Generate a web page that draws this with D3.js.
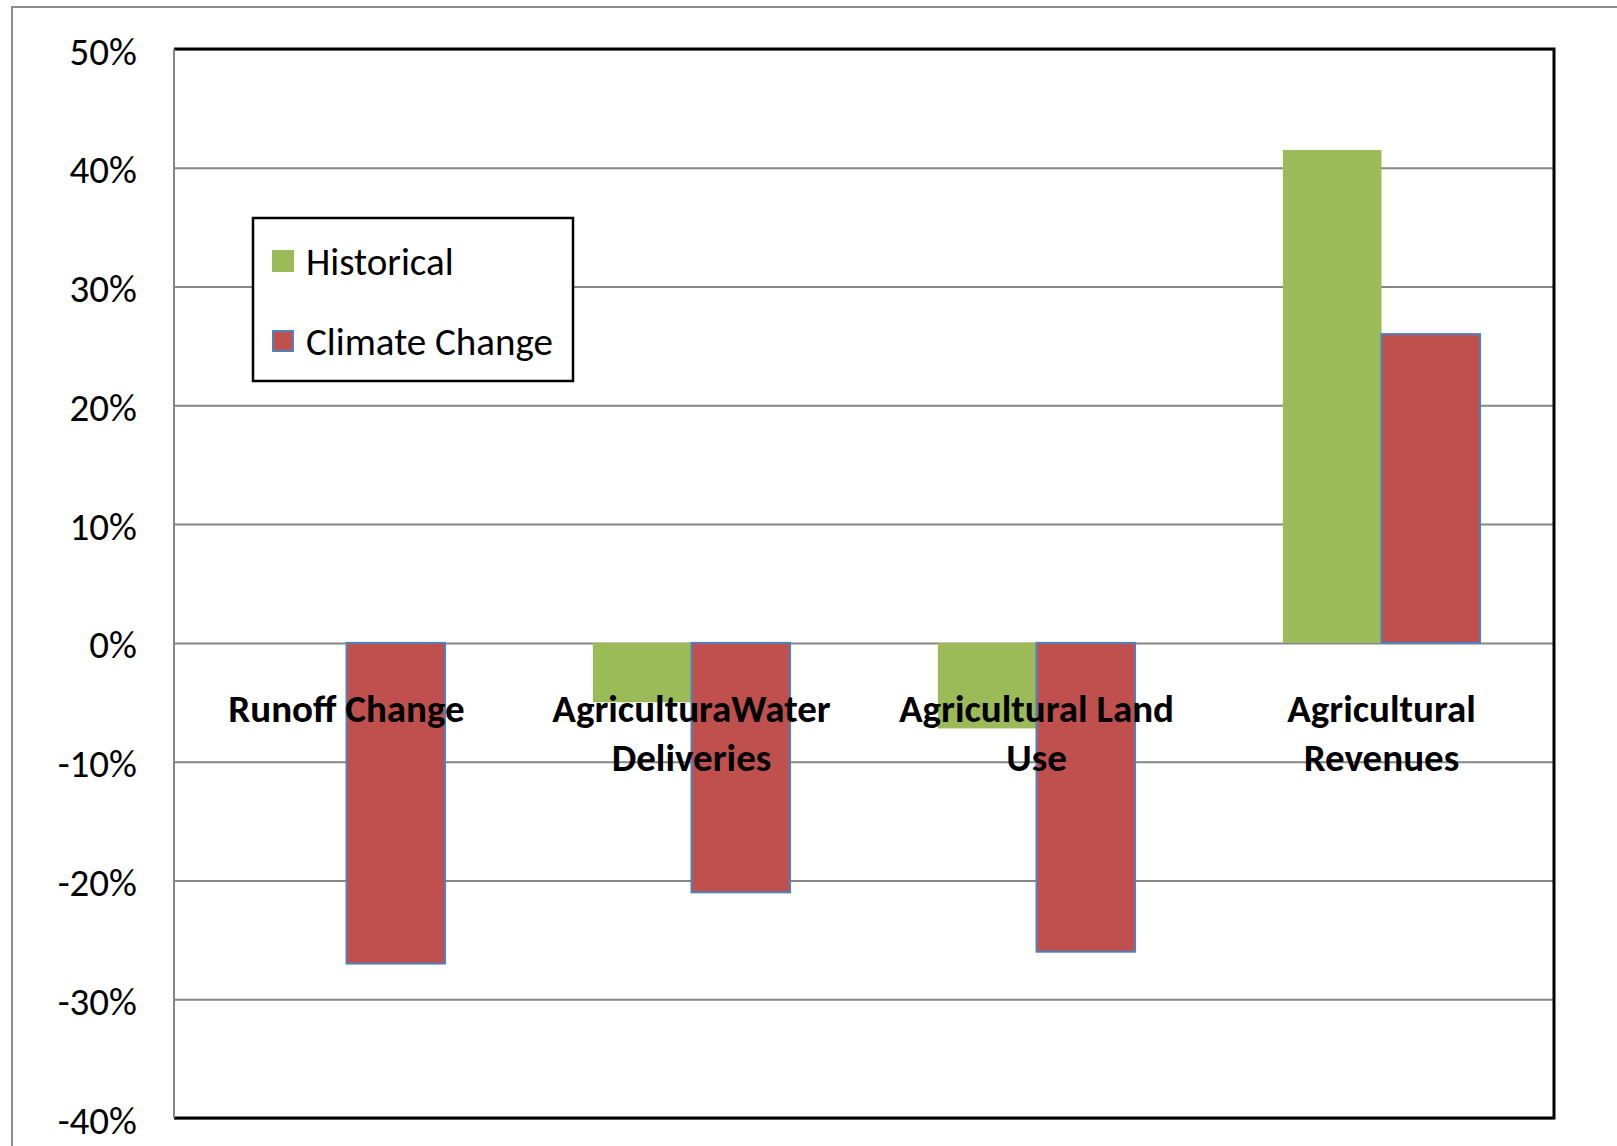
<!DOCTYPE html>
<html>
<head>
<meta charset="utf-8">
<script src="https://cdn.jsdelivr.net/npm/d3@7"></script>
<style>
  html, body { margin: 0; padding: 0; background: #fff; }
  svg { display: block; }
  text { font-family: Carlito, Calibri, Lato, sans-serif; }
</style>
</head>
<body>
<svg id="chart" width="1617" height="1146"></svg>
<script>
// Change relative to baseline, by indicator
const categories = [
  ["Runoff Change"],
  ["AgriculturaWater", "Deliveries"],
  ["Agricultural Land", "Use"],
  ["Agricultural", "Revenues"]
];
const seriesNames = ["Historical", "Climate Change"];
const historical = [0.0, -0.05, -0.072, 0.415];
const climateChange = [-0.27, -0.21, -0.26, 0.26];
const yTicks = [-0.4, -0.3, -0.2, -0.1, 0, 0.1, 0.2, 0.3, 0.4, 0.5];

const colors = { "Historical": "#9BBB59", "Climate Change": "#C0504D" };
const outline = { "Historical": "none", "Climate Change": "#4F81BD" };

const svg = d3.select("#chart");
const W = 1617, H = 1146;
const plot = { left: 174, right: 1554, top: 49, bottom: 1118 };

// outer chart frame (continues past the page edge)
svg.append("rect")
  .attr("x", 12).attr("y", 7)
  .attr("width", W).attr("height", H)
  .attr("fill", "#fff").attr("stroke", "#8c8c8c").attr("stroke-width", 2);

const keys = categories.map(c => c.join(" "));
const x = d3.scaleBand().domain(keys)
  .range([plot.left, plot.right])
  .paddingInner(1.5 / 3.5).paddingOuter(0.75 / 3.5);
const x1 = d3.scaleBand().domain(seriesNames).range([0, x.bandwidth()]);
const y = d3.scaleLinear().domain([-0.4, 0.5]).range([plot.bottom, plot.top]);
const pct = v => d3.format(".0%")(v).replace("\u2212", "-");

// gridlines
svg.append("g")
  .attr("transform", `translate(${plot.left},0)`)
  .call(d3.axisLeft(y).tickValues(yTicks).tickSize(-(plot.right - plot.left)).tickFormat(""))
  .call(g => g.select(".domain").remove())
  .call(g => g.selectAll("line").attr("stroke", "#868686").attr("stroke-width", 2));

// tick labels
svg.append("g")
  .selectAll("text").data(yTicks).join("text")
  .attr("x", 137).attr("y", d => y(d))
  .attr("dy", "0.4em")
  .attr("text-anchor", "end")
  .attr("font-size", 39)
  .attr("fill", "#000")
  .text(d => pct(d));

// bars
const rows = keys.map((k, i) => ({ key: k, values: [
  { s: "Historical", v: historical[i] },
  { s: "Climate Change", v: climateChange[i] }
]}));

const groups = svg.append("g").selectAll("g").data(rows).join("g")
  .attr("transform", d => `translate(${x(d.key)},0)`);
groups.selectAll("rect").data(d => d.values.filter(e => e.v !== 0)).join("rect")
  .attr("x", d => x1(d.s))
  .attr("width", x1.bandwidth())
  .attr("y", d => y(Math.max(0, d.v)))
  .attr("height", d => Math.abs(y(d.v) - y(0)))
  .attr("fill", d => colors[d.s])
  .attr("stroke", d => outline[d.s])
  .attr("stroke-width", 2);

// plot frame: grey value axis on the left, black elsewhere
svg.append("path")
  .attr("d", `M${plot.left},${plot.top}H${plot.right}V${plot.bottom}H${plot.left}`)
  .attr("fill", "none").attr("stroke", "#000").attr("stroke-width", 3);
svg.append("line")
  .attr("x1", plot.left).attr("x2", plot.left)
  .attr("y1", plot.top).attr("y2", plot.bottom)
  .attr("stroke", "#868686").attr("stroke-width", 2);

// category labels, drawn over the bars
const labels = svg.append("g").selectAll("text").data(categories).join("text")
  .attr("text-anchor", "middle")
  .attr("font-weight", "bold")
  .attr("font-size", 39)
  .attr("fill", "#000");
labels.selectAll("tspan").data((d, i) => d.map(line => ({ line, i }))).join("tspan")
  .attr("x", d => x(keys[d.i]) + x.bandwidth() / 2)
  .attr("y", (d, j) => 722 + j * 48.5)
  .text(d => d.line);

// legend
const lg = svg.append("g");
lg.append("rect")
  .attr("x", 253).attr("y", 218).attr("width", 320).attr("height", 163)
  .attr("fill", "#fff").attr("stroke", "#000").attr("stroke-width", 2.5);
const items = lg.selectAll("g").data(seriesNames).join("g")
  .attr("transform", (d, i) => `translate(272,${250 + i * 80})`);
items.append("rect")
  .attr("x", d => outline[d] === "none" ? 0 : 1)
  .attr("y", d => outline[d] === "none" ? 0 : 1)
  .attr("width", d => outline[d] === "none" ? 22 : 20)
  .attr("height", d => outline[d] === "none" ? 22 : 20)
  .attr("fill", d => colors[d])
  .attr("stroke", d => outline[d])
  .attr("stroke-width", 2);
items.append("text")
  .attr("x", 34).attr("y", 25)
  .attr("font-size", 39)
  .attr("fill", "#000")
  .text(d => d);
</script>
</body>
</html>
